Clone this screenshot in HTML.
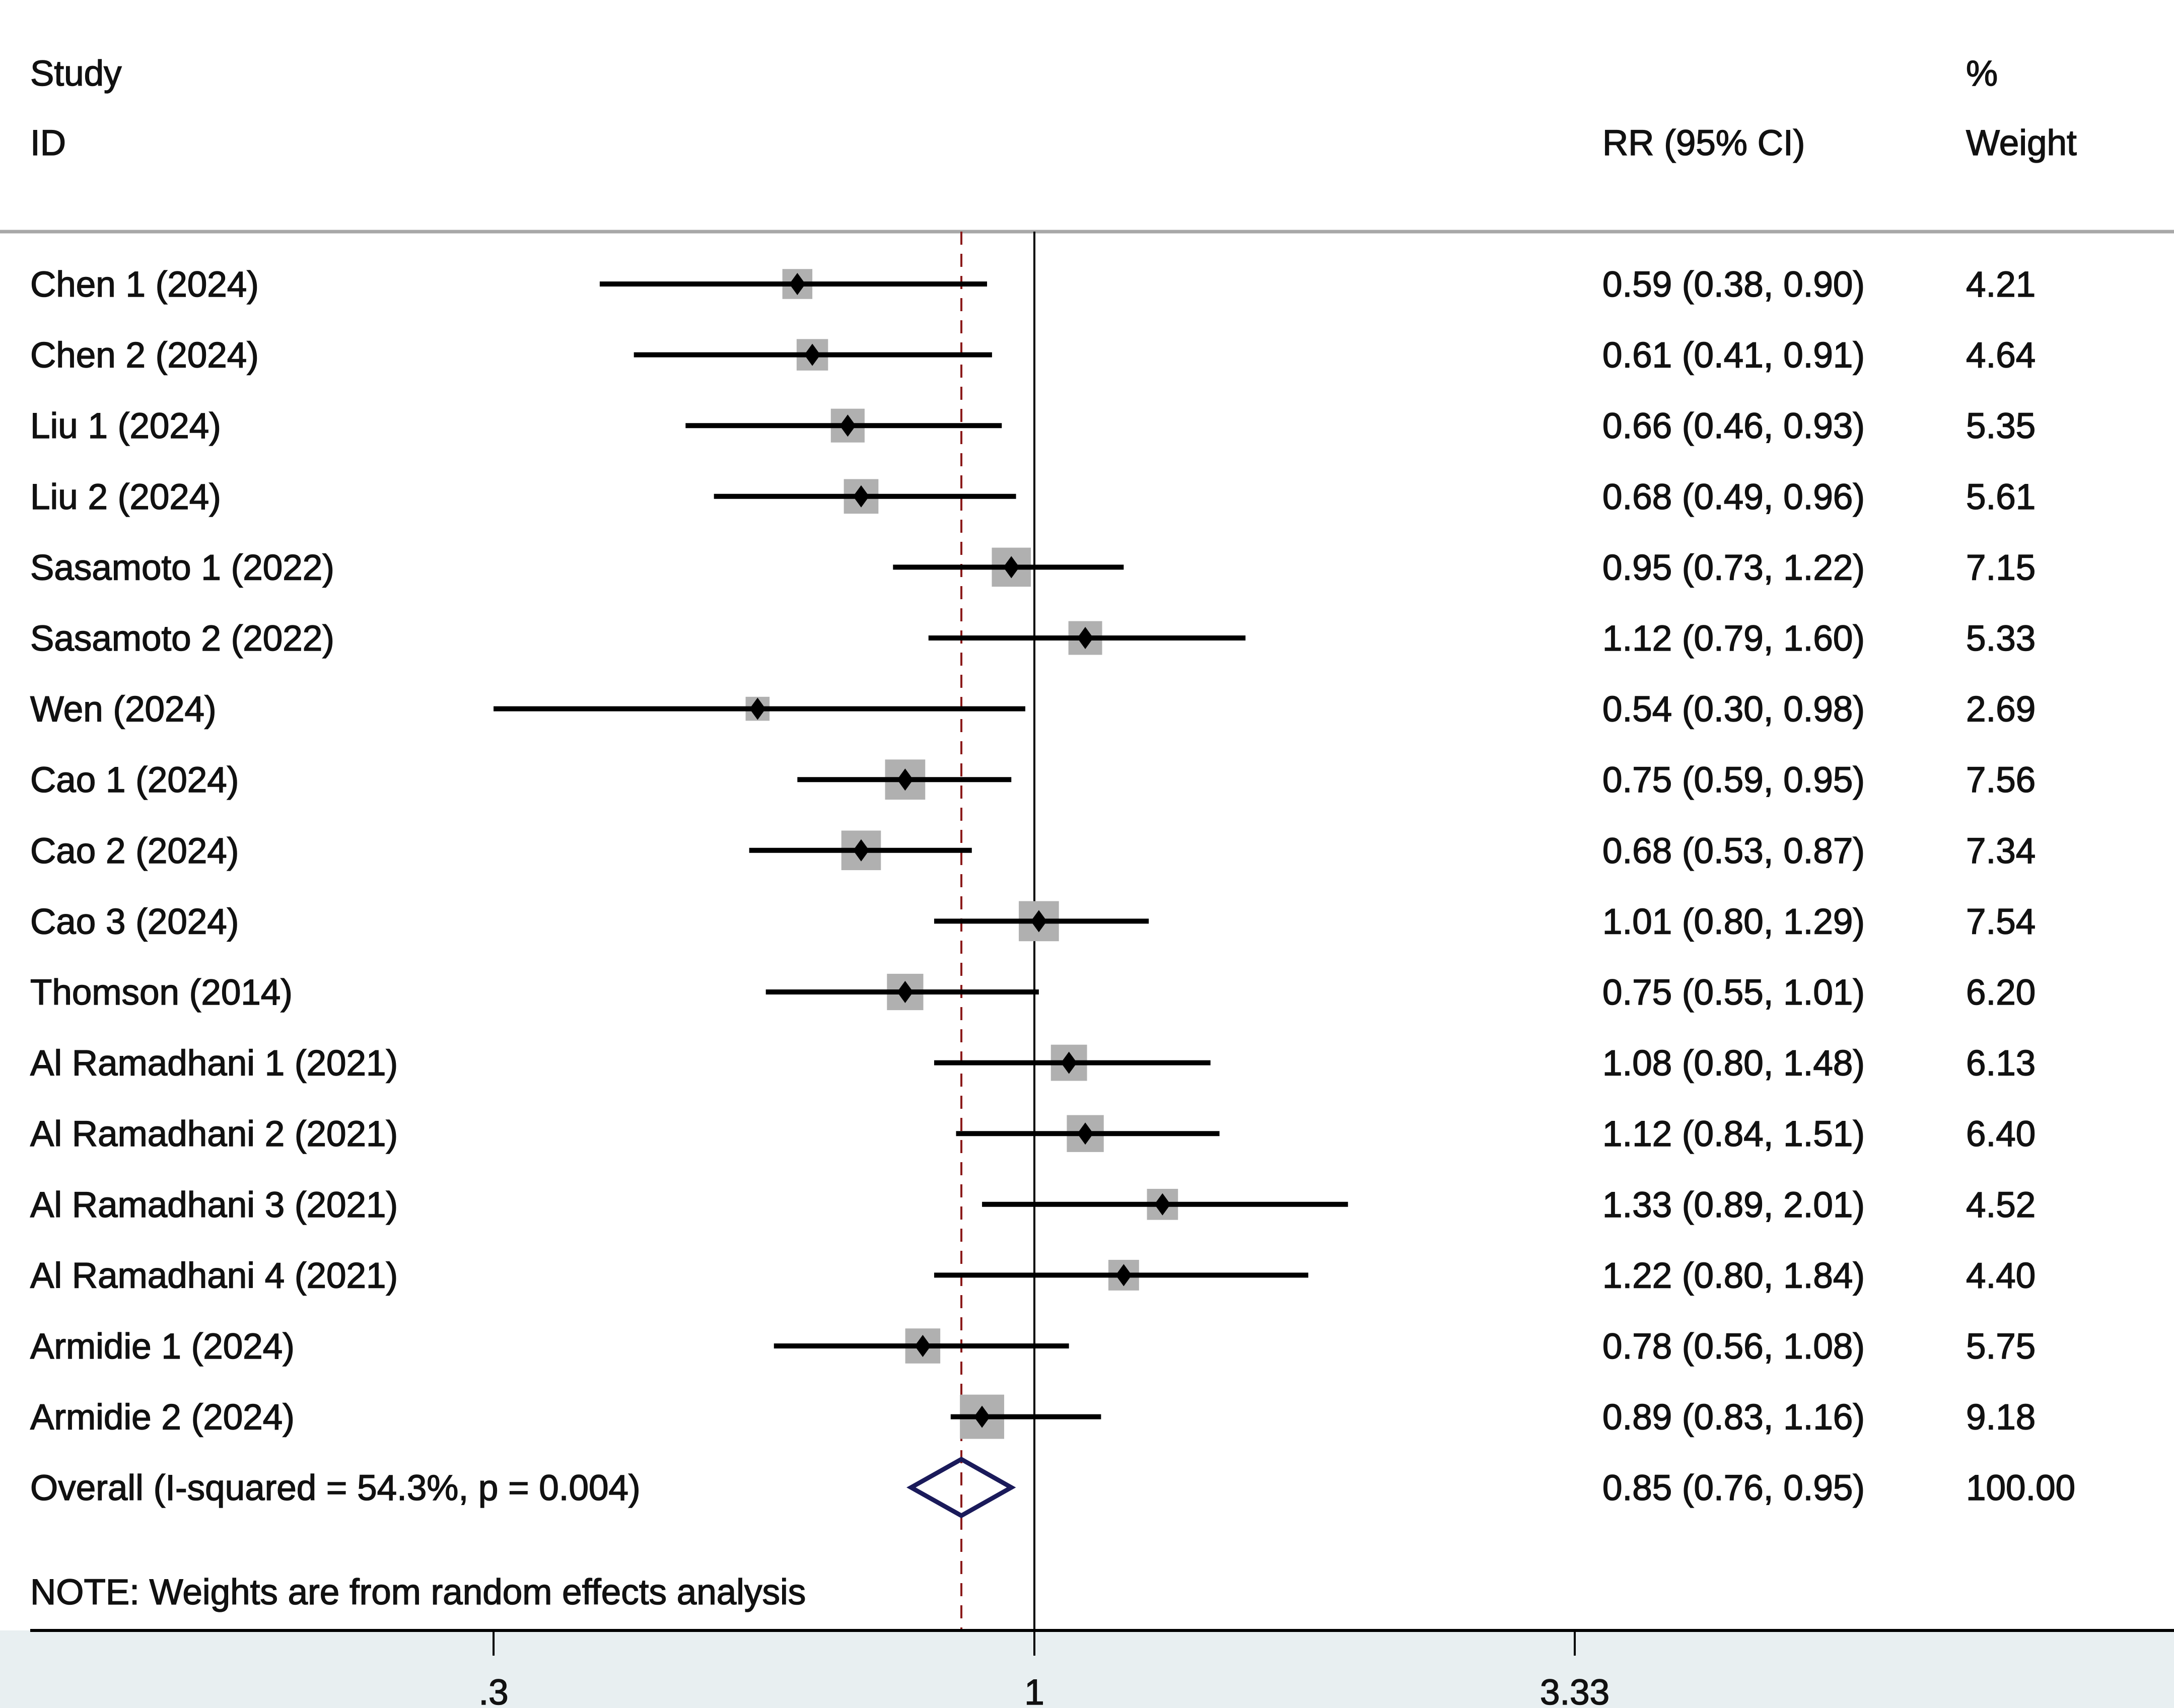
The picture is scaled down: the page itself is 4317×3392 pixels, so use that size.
<!DOCTYPE html>
<html><head><meta charset="utf-8">
<style>
html,body{margin:0;padding:0;background:#fff;}
svg{display:block;}
text{font-family:"Liberation Sans",Arial,sans-serif;font-size:71px;fill:#111;stroke:#111;stroke-width:1.5px;}
</style></head>
<body>
<svg id="chart" width="4317" height="3392" viewBox="0 0 4317 3392" xmlns="http://www.w3.org/2000/svg">
<rect x="0" y="3238" width="4317" height="154" fill="#e8eff1"/>
<line x1="0" y1="460" x2="4317" y2="460" stroke="#a8a8a8" stroke-width="7"/>
<text x="60" y="170">Study</text>
<text x="60" y="308">ID</text>
<text x="3182" y="308">RR (95% CI)</text>
<text x="3904" y="170">%</text>
<text x="3904" y="308">Weight</text>
<text x="60" y="3186">NOTE: Weights are from random effects analysis</text>
<g id="plot"></g>
</svg>
<script>
const studies=["Chen 1 (2024)","Chen 2 (2024)","Liu 1 (2024)","Liu 2 (2024)","Sasamoto 1 (2022)","Sasamoto 2 (2022)","Wen (2024)","Cao 1 (2024)","Cao 2 (2024)","Cao 3 (2024)","Thomson (2014)","Al Ramadhani 1 (2021)","Al Ramadhani 2 (2021)","Al Ramadhani 3 (2021)","Al Ramadhani 4 (2021)","Armidie 1 (2024)","Armidie 2 (2024)"];
const rr=[0.59,0.61,0.66,0.68,0.95,1.12,0.54,0.75,0.68,1.01,0.75,1.08,1.12,1.33,1.22,0.78,0.89];
const lo=[0.38,0.41,0.46,0.49,0.73,0.79,0.30,0.59,0.53,0.80,0.55,0.80,0.84,0.89,0.80,0.56,0.83];
const hi=[0.90,0.91,0.93,0.96,1.22,1.60,0.98,0.95,0.87,1.29,1.01,1.48,1.51,2.01,1.84,1.08,1.16];
const weights=[4.21,4.64,5.35,5.61,7.15,5.33,2.69,7.56,7.34,7.54,6.20,6.13,6.40,4.52,4.40,5.75,9.18];
const overall=[0.85,0.76,0.95];
const overallWeight="100.00";
const overallLabel="Overall  (I-squared = 54.3%, p = 0.004)";
const ticks=[0.3,1,3.33];
const tickLabels=[".3","1","3.33"];

const NS="http://www.w3.org/2000/svg";
const g=document.getElementById('plot');
const X=v=>2054+892*Math.log(v);
const Y=i=>564+140.6*i;
const fmt=v=>v.toFixed(2);
function el(tag,attrs,txt){const e=document.createElementNS(NS,tag);for(const k in attrs)e.setAttribute(k,attrs[k]);if(txt!==undefined)e.textContent=txt;g.appendChild(e);return e;}
const topY=460,axisY=3238;
let e=el('line',{x1:X(1),y1:topY,x2:X(1),y2:axisY,stroke:'#000','stroke-width':4});


e=el('line',{x1:X(overall[0]),y1:topY,x2:X(overall[0]),y2:axisY,stroke:'#8b1a1a','stroke-width':4,'stroke-dasharray':'26,18'});


studies.forEach((s,i)=>{
  const y=Y(i);
  const side=29*Math.sqrt(weights[i]);
  let r=el('rect',{x:X(rr[i])-side/2,y:y-side/2,width:side,height:side,fill:'#b0b0b0'});
  
  
  let l=el('line',{x1:X(lo[i]),y1:y,x2:X(hi[i]),y2:y,stroke:'#000','stroke-width':10});
  
  
  const cx=X(rr[i]);
  let d=el('polygon',{points:`${cx},${y-22} ${cx+16},${y} ${cx},${y+22} ${cx-16},${y}`,fill:'#000'});
  
  
  let t=el('text',{x:60,y:y+25},s);
  
  
  t=el('text',{x:3182,y:y+25},`${fmt(rr[i])} (${fmt(lo[i])}, ${fmt(hi[i])})`);
  
  
  t=el('text',{x:3904,y:y+25},fmt(weights[i]));
  
  
});
const oy=2954;
let dm=el('polygon',{points:`${X(overall[1])},${oy} ${X(overall[0])},${oy-56} ${X(overall[2])},${oy} ${X(overall[0])},${oy+56}`,fill:'none',stroke:'#1a1a5a','stroke-width':9});


let ot=el('text',{x:60,y:oy+25},overallLabel);


ot=el('text',{x:3182,y:oy+25},`${fmt(overall[0])} (${fmt(overall[1])}, ${fmt(overall[2])})`);


ot=el('text',{x:3904,y:oy+25},overallWeight);


let ax=el('line',{x1:60,y1:axisY,x2:4317,y2:axisY,stroke:'#000','stroke-width':6});


ticks.forEach((v,i)=>{
  let tk=el('line',{x1:X(v),y1:axisY,x2:X(v),y2:axisY+50,stroke:'#000','stroke-width':4});
  
  
  let tl=el('text',{x:X(v),y:3385,'text-anchor':'middle'},tickLabels[i]);
  
  
});
</script>
</body></html>
